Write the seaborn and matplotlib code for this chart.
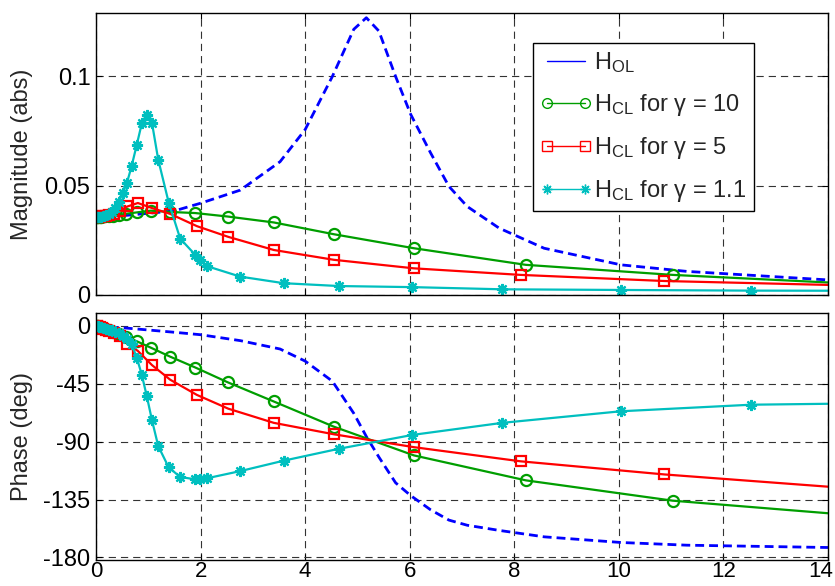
import numpy as np
import pandas as pd
import matplotlib
matplotlib.use("Agg")
import matplotlib.pyplot as plt
import matplotlib.transforms as mtransforms
from matplotlib.lines import Line2D
import seaborn as sns

# ---------------- data ----------------
# Open loop H_OL
f_ol = [0.0, 0.6, 1.5, 2.0, 2.76, 3.52, 4.0, 4.52, 4.93, 5.17, 5.41, 5.73,
        6.02, 6.40, 6.75, 7.10, 7.71, 8.57, 10.04, 11.3, 14.0]
mag_ol = [0.0358, 0.0365, 0.0385, 0.042, 0.048, 0.061, 0.0757, 0.100, 0.1216,
          0.1269, 0.1208, 0.100, 0.0826, 0.065, 0.0497, 0.0405, 0.0306,
          0.0214, 0.0138, 0.0108, 0.0069]
ph_ol = [0.0, -1.8, -5.0, -6.9, -11.5, -18.0, -27.4, -43.0, -68.0, -86.0,
         -102.0, -122.0, -132.0, -143.0, -151.0, -155.0, -159.0, -164.0,
         -168.4, -170.5, -172.3]

# Closed loop, gamma = 10
f_g10 = [0.01, 0.02, 0.04, 0.075, 0.10, 0.135, 0.18, 0.24, 0.325, 0.435,
         0.58, 0.78, 1.05, 1.42, 1.90, 2.52, 3.40, 4.55, 6.08, 8.22, 11.03, 14.8]
mag_g10 = [0.0358, 0.0358, 0.0358, 0.0359, 0.0359, 0.0360, 0.0360, 0.0361,
           0.0363, 0.0367, 0.0372, 0.0378, 0.0386, 0.0380, 0.0375, 0.0359,
           0.0332, 0.0278, 0.0214, 0.0138, 0.0092, 0.0048]
ph_g10 = [0.0, -0.2, -0.5, -1.0, -1.3, -1.8, -2.4, -3.2, -4.4, -6.0, -8.5,
          -12.0, -17.0, -24.0, -32.4, -43.9, -58.8, -78.4, -100.7, -120.1,
          -135.9, -148.3]

# Closed loop, gamma = 5
f_g5 = [0.01, 0.02, 0.04, 0.08, 0.105, 0.14, 0.19, 0.25, 0.335, 0.45, 0.60,
        0.80, 1.07, 1.42, 1.93, 2.53, 3.40, 4.55, 6.08, 8.12, 10.87, 14.55]
mag_g5 = [0.0357, 0.0357, 0.0358, 0.0359, 0.0360, 0.0361, 0.0363, 0.0366,
          0.0372, 0.0385, 0.0405, 0.0421, 0.0398, 0.0371, 0.0315, 0.0266,
          0.0206, 0.0161, 0.0122, 0.0092, 0.0064, 0.0043]
ph_g5 = [0.0, -0.3, -0.6, -1.2, -1.6, -2.2, -3.0, -4.0, -5.5, -8.0, -14.0,
         -19.5, -30.5, -41.9, -53.7, -64.4, -75.4, -84.3, -94.3, -105.3,
         -115.5, -126.7]

# Closed loop, gamma = 1.1
f_g11 = [0.01, 0.03, 0.06, 0.10, 0.15, 0.20, 0.25, 0.30, 0.36, 0.43, 0.51,
         0.59, 0.68, 0.78, 0.875, 0.97, 1.07, 1.19, 1.39, 1.61, 1.90, 1.99,
         2.12, 2.76, 3.59, 4.64, 6.05, 7.77, 10.04, 12.53, 15.6]
mag_g11 = [0.0355, 0.0356, 0.0357, 0.0358, 0.0360, 0.0365, 0.0372, 0.0382,
           0.0398, 0.0425, 0.0465, 0.0512, 0.0589, 0.0688, 0.0785, 0.0826,
           0.0788, 0.0619, 0.0423, 0.0258, 0.0183, 0.0161, 0.0132, 0.0084,
           0.0054, 0.0041, 0.0036, 0.0026, 0.0023, 0.0020, 0.0019]
ph_g11 = [0.0, -0.3, -0.6, -1.0, -1.6, -2.2, -2.9, -3.6, -4.6, -5.8, -7.6,
          -10.0, -14.0, -24.8, -38.0, -54.5, -73.3, -93.5, -110.0, -117.5,
          -119.3, -119.3, -118.5, -112.9, -104.8, -95.6, -84.8, -75.4, -66.4,
          -61.3, -59.8]

labels = [r"H$_{\mathregular{OL}}$",
          r"H$_{\mathregular{CL}}$ for γ = 10",
          r"H$_{\mathregular{CL}}$ for γ = 5",
          r"H$_{\mathregular{CL}}$ for γ = 1.1"]

x_ticks = [0, 2, 4, 6, 8, 10, 12, 14]
mag_ticks = [0, 0.05, 0.1]
mag_tick_labels = ["0", "0.05", "0.1"]
ph_ticks = [0, -45, -90, -135, -180]
ph_tick_labels = ["0", "-45", "-90", "-135", "-180"]

# ---------------- style ----------------
sns.set_theme(style="white")
plt.rcParams["font.family"] = ["Liberation Sans", "DejaVu Sans"]
plt.rcParams["mathtext.fontset"] = "custom"
plt.rcParams["mathtext.rm"] = "Liberation Sans"
plt.rcParams["mathtext.it"] = "Liberation Sans:italic"
plt.rcParams["axes.unicode_minus"] = False
FS = 17

c_blue = (0.0, 0.0, 1.0)
c_green = (0.0, 0.62, 0.0)
c_red = (1.0, 0.0, 0.0)
c_cyan = (0.0, 0.75, 0.75)

fig = plt.figure(figsize=(8.35, 5.86), dpi=100)
ax1 = fig.add_axes([0.115, 0.4966, 0.8766, 0.481])
ax2 = fig.add_axes([0.115, 0.0444, 0.8766, 0.4215])

series = [
    (f_ol, mag_ol, ph_ol, c_blue, None),
    (f_g10, mag_g10, ph_g10, c_green, "o"),
    (f_g5, mag_g5, ph_g5, c_red, "s"),
    (f_g11, mag_g11, ph_g11, c_cyan, (8, 2, 0)),
]

for f, m, p, col, mk in series:
    df = pd.DataFrame({"f": f, "mag": m, "phase": p})
    for ax, yc in ((ax1, "mag"), (ax2, "phase")):
        if mk is None:
            sns.lineplot(data=df, x="f", y=yc, ax=ax, color=col, lw=2.0,
                         linestyle=(0, (3.2, 1.8)), sort=False,
                         estimator=None, legend=False)
        else:
            ms = 8 if mk == "o" else (7.5 if mk == "s" else 8)
            sns.lineplot(data=df, x="f", y=yc, ax=ax, color=col, lw=1.6,
                         marker=mk, markersize=ms, markerfacecolor="none",
                         markeredgecolor=col, markeredgewidth=1.6,
                         sort=False, estimator=None, legend=False)

grid_kw = dict(color="0.2", linestyle=(0, (6.5, 4.5)), linewidth=0.8)
for ax in (ax1, ax2):
    ax.set_xlim(0, 14)
    ax.set_xticks(x_ticks)
    ax.grid(True, **grid_kw)
    ax.set_axisbelow(True)
    ax.set_xlabel("")
    for s in ax.spines.values():
        s.set_color("black")
        s.set_linewidth(1.0)
    ax.tick_params(direction="in", length=4, width=0.8, colors="black",
                   labelsize=FS, pad=4, top=True, right=True,
                   bottom=True, left=True)
ax2.tick_params(axis="x", pad=1, labelsize=16)

ax1.set_ylim(0, 0.129)
ax1.set_yticks(mag_ticks)
ax1.set_yticklabels(mag_tick_labels)
ax1.set_xticklabels([])
ax1.set_ylabel("Magnitude (abs)", fontsize=FS)
ax1.yaxis.set_label_coords(-0.086, 0.5)

ax2.set_ylim(-182, 10)
ax2.set_yticks(ph_ticks)
ax2.set_yticklabels(ph_tick_labels)
ax2.set_xticklabels([str(v) for v in x_ticks])
ax2.set_ylabel("Phase (deg)", fontsize=FS)
ax2.yaxis.set_label_coords(-0.086, 0.5)

# keep the last x tick label ("14") inside the canvas
last = ax2.get_xticklabels()[-1]
last.set_transform(last.get_transform() +
                   mtransforms.ScaledTranslation(-7 / 100, 0, fig.dpi_scale_trans))

handles = [
    Line2D([], [], color=c_blue, lw=1.0),
    Line2D([], [], color=c_green, lw=1.0, marker="o", ms=7,
           mfc="none", mec=c_green, mew=1.0),
    Line2D([], [], color=c_red, lw=1.0, marker="s", ms=7,
           mfc="none", mec=c_red, mew=1.0),
    Line2D([], [], color=c_cyan, lw=1.0, marker=(8, 2, 0), ms=7,
           mec=c_cyan, mew=1.0),
]
leg = ax1.legend(handles, labels, loc="upper left",
                 bbox_to_anchor=(0.597, 0.8926), borderaxespad=0,
                 fontsize=FS, numpoints=2, handlelength=2.2,
                 handletextpad=0.1, labelspacing=0.72, borderpad=0.3,
                 frameon=True, fancybox=False, framealpha=1)
leg.get_frame().set_edgecolor("black")
leg.get_frame().set_linewidth(1.0)

fig.savefig("out.png", dpi=100)
